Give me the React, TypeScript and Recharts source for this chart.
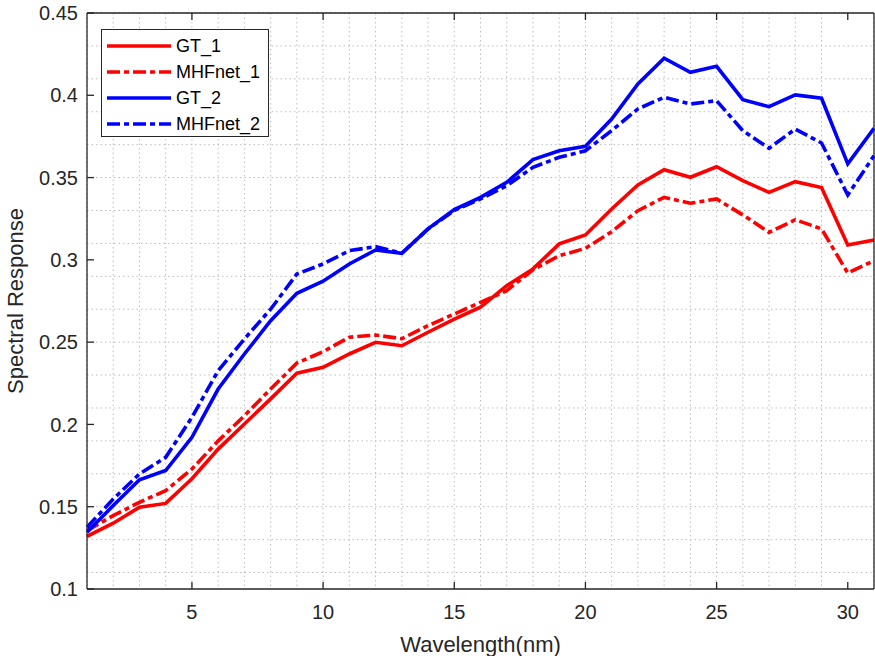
import React from 'react';
import { LineChart, Line, XAxis, YAxis, CartesianGrid, Legend } from 'recharts';

// band index 1..31
const wavelength = [1, 2, 3, 4, 5, 6, 7, 8, 9, 10, 11, 12, 13, 14, 15, 16, 17, 18, 19, 20, 21, 22, 23, 24, 25, 26, 27, 28, 29, 30, 31];

const gt1 = [0.132, 0.14, 0.1497, 0.152, 0.167, 0.185, 0.2003, 0.2155, 0.2311, 0.2347, 0.2428, 0.2499, 0.2478, 0.256, 0.264, 0.2712, 0.2843, 0.2945, 0.3097, 0.3151, 0.3309, 0.3455, 0.3548, 0.3502, 0.3566, 0.3481, 0.341, 0.3475, 0.344, 0.309, 0.3121];
const mhf1 = [0.1355, 0.1446, 0.1527, 0.1598, 0.1729, 0.19, 0.2053, 0.2215, 0.2373, 0.2442, 0.253, 0.2543, 0.2521, 0.26, 0.2671, 0.2742, 0.2813, 0.294, 0.3025, 0.307, 0.3171, 0.3299, 0.338, 0.3344, 0.337, 0.3273, 0.3167, 0.3244, 0.3188, 0.292, 0.2995];
const gt2 = [0.1345, 0.1507, 0.1664, 0.172, 0.1922, 0.2215, 0.2428, 0.263, 0.2797, 0.287, 0.2975, 0.306, 0.304, 0.3188, 0.3305, 0.338, 0.3471, 0.3609, 0.3663, 0.369, 0.3856, 0.4069, 0.4225, 0.414, 0.4176, 0.3973, 0.3931, 0.4002, 0.3982, 0.3583, 0.38];
const mhf2 = [0.1375, 0.1547, 0.1699, 0.18, 0.2043, 0.2327, 0.2519, 0.27, 0.2914, 0.2975, 0.3056, 0.308, 0.304, 0.3188, 0.33, 0.337, 0.345, 0.3562, 0.3623, 0.3663, 0.3785, 0.3917, 0.3988, 0.3947, 0.3967, 0.3785, 0.3678, 0.3795, 0.371, 0.3394, 0.3633];

const xTicks = [5, 10, 15, 20, 25, 30];
const yTicks = [0.1, 0.15, 0.2, 0.25, 0.3, 0.35, 0.4, 0.45];
const yMinorTicks = Array.from({ length: 36 }, (_, i) => +(0.1 + i * 0.01).toFixed(2));

const DASH_DOT = '13 4 5 4';

const series = [
  { key: 'gt1', name: 'GT_1', color: '#FF0000', dash: undefined },
  { key: 'mhf1', name: 'MHFnet_1', color: '#FF0000', dash: DASH_DOT },
  { key: 'gt2', name: 'GT_2', color: '#0000FF', dash: undefined },
  { key: 'mhf2', name: 'MHFnet_2', color: '#0000FF', dash: DASH_DOT },
];

const data = wavelength.map((w, i) => ({ w, gt1: gt1[i], mhf1: mhf1[i], gt2: gt2[i], mhf2: mhf2[i] }));

const FONT = '"Liberation Sans", Arial, Helvetica, sans-serif';
const INK = '#262626';

const renderLegend = () => (
  <div
    style={{
      border: `1px solid ${INK}`,
      background: '#fff',
      width: 168,
      height: 108,
      boxSizing: 'border-box',
      padding: '3px 0 0 5px',
      fontFamily: FONT,
      fontSize: 18,
      color: '#000',
    }}
  >
    {series.map((s) => (
      <div key={s.key} style={{ display: 'flex', alignItems: 'center', height: 26 }}>
        <svg width={64} height={8} style={{ marginRight: 5 }}>
          <line x1={0} y1={4} x2={64} y2={4} stroke={s.color} strokeWidth={3.5} strokeDasharray={s.dash} />
        </svg>
        <span>{s.name}</span>
      </div>
    ))}
  </div>
);

const XLabel = (props: any) => {
  const { viewBox } = props;
  return (
    <text x={viewBox.x + viewBox.width / 2} y={viewBox.y + 62.5} textAnchor="middle" fill={INK} fontSize={22} fontFamily={FONT}>
      Wavelength(nm)
    </text>
  );
};

const YLabel = (props: any) => {
  const { viewBox } = props;
  const cy = viewBox.y + viewBox.height / 2;
  return (
    <text transform={`translate(23,${cy}) rotate(-90)`} textAnchor="middle" fill={INK} fontSize={22} fontFamily={FONT}>
      Spectral Response
    </text>
  );
};

export default function App() {
  const tickStyle = { fill: INK, fontSize: 20, fontFamily: FONT };
  return (
    <div style={{ position: 'absolute', left: 0, top: 0, width: 875, height: 656, background: '#fff' }}>
      <LineChart width={875} height={656} data={data} margin={{ top: 0, right: 0, bottom: 0, left: 0 }} style={{ fontFamily: FONT }}>
        <CartesianGrid
          xAxisId="main"
          yAxisId="main"
          verticalValues={wavelength}
          horizontalValues={yMinorTicks}
          stroke="#bdbdbd"
          strokeDasharray="1.5 3"
        />
        <XAxis
          xAxisId="main"
          dataKey="w"
          type="number"
          domain={[1, 31]}
          ticks={xTicks}
          height={67}
          tickSize={-7}
          tickMargin={23}
          tick={tickStyle}
          axisLine={{ stroke: INK, strokeWidth: 1.3 }}
          tickLine={{ stroke: INK, strokeWidth: 1.3 }}
          label={<XLabel />}
        />
        <XAxis
          xAxisId="top"
          orientation="top"
          dataKey="w"
          type="number"
          domain={[1, 31]}
          ticks={xTicks}
          height={13}
          tickSize={-7}
          tickFormatter={() => ''}
          axisLine={{ stroke: INK, strokeWidth: 1.3 }}
          tickLine={{ stroke: INK, strokeWidth: 1.3 }}
        />
        <YAxis
          yAxisId="main"
          type="number"
          domain={[0.1, 0.45]}
          ticks={yTicks}
          width={87}
          tickSize={-7}
          tickMargin={16}
          tick={tickStyle}
          tickFormatter={(v: number) => String(+v.toFixed(2))}
          axisLine={{ stroke: INK, strokeWidth: 1.3 }}
          tickLine={{ stroke: INK, strokeWidth: 1.3 }}
          label={<YLabel />}
        />
        <YAxis
          yAxisId="right"
          orientation="right"
          type="number"
          domain={[0.1, 0.45]}
          ticks={yTicks}
          width={1}
          tickSize={-7}
          tickFormatter={() => ''}
          axisLine={{ stroke: INK, strokeWidth: 1.3 }}
          tickLine={{ stroke: INK, strokeWidth: 1.3 }}
        />
        {series.map((s) => (
          <Line
            key={s.key}
            xAxisId="main"
            yAxisId="main"
            type="linear"
            dataKey={s.key}
            name={s.name}
            stroke={s.color}
            strokeWidth={3.6}
            strokeDasharray={s.dash}
            dot={false}
            activeDot={false}
            isAnimationActive={false}
          />
        ))}
        <Legend
          layout="vertical"
          align="center"
          verticalAlign="middle"
          content={renderLegend}
          wrapperStyle={{ position: 'absolute', left: 101, top: 29, width: 'auto', height: 'auto' }}
        />
      </LineChart>
    </div>
  );
}
